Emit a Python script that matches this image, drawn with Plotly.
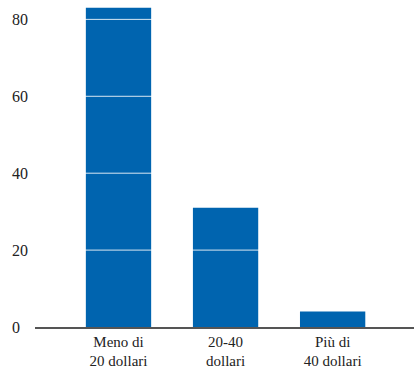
import plotly.graph_objects as go

categories = ["Meno di<br>20 dollari", "20-40<br>dollari", "Più di<br>40 dollari"]
values = [83, 31, 4]
grid_values = [20, 40, 60, 80]
tick_vals = [0, 20, 40, 60, 80]
tick_text = ["0", "20", "40", "60", "80"]

font = "Liberation Serif, DejaVu Serif, serif"

fig = go.Figure()
fig.add_trace(go.Bar(x=[0, 1, 2], y=values, width=0.61,
                     marker=dict(color="#0064AF", line=dict(width=0))))

for g in grid_values:
    fig.add_shape(type="line", xref="paper", x0=0, x1=1, yref="y", y0=g, y1=g,
                  line=dict(color="rgba(255,255,255,0.85)", width=1), layer="above")

for v, t in zip(tick_vals, tick_text):
    fig.add_annotation(x=-0.066, xref="paper", xanchor="left", y=v, yref="y",
                       text=t, showarrow=False, yanchor="middle",
                       font=dict(size=16, family=font, color="#222"))

fig.update_layout(
    width=414, height=369,
    margin=dict(l=35, r=0, t=4, b=42),
    paper_bgcolor="white", plot_bgcolor="white",
    showlegend=False,
    font=dict(family=font, size=15, color="#222"),
    xaxis=dict(range=[-0.78, 2.76], tickvals=[0, 1, 2], ticktext=categories,
               showgrid=False, showline=True, linecolor="#555", linewidth=1.5,
               ticks="", tickfont=dict(size=15, family=font, color="#222"),
               zeroline=False, automargin=False),
    yaxis=dict(range=[0, 84], showticklabels=False,
               showgrid=False, zeroline=False, showline=False, ticks=""),
)

fig.write_html("out.html", config={"displayModeBar": False},
               post_script="document.body.style.margin='0';")
